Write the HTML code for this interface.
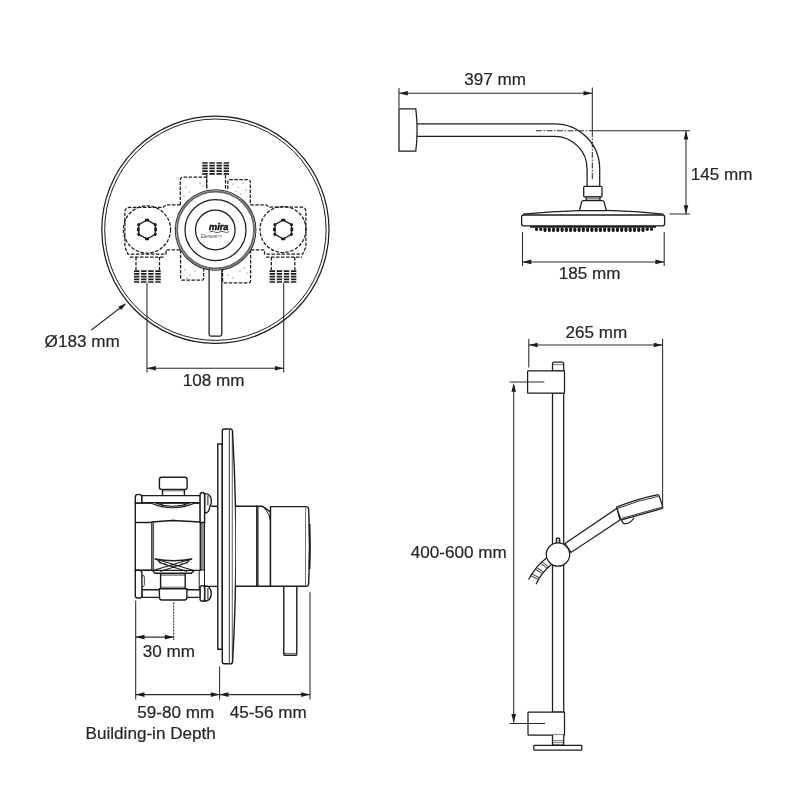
<!DOCTYPE html>
<html lang="en">
<head>
<meta charset="utf-8">
<title>Shower dimensions</title>
<style>
html,body{margin:0;padding:0;background:#fff;}
body{width:800px;height:800px;overflow:hidden;}
svg{display:block;}
.t{font-family:"Liberation Sans",Arial,Helvetica,sans-serif;font-size:17.1px;fill:#262626;stroke:#262626;stroke-width:0.2;}
.l{fill:none;stroke:#1c1c1c;stroke-width:1.25;}
.w{fill:#fff;stroke:#1c1c1c;stroke-width:1.25;}
#valve-side .l,#valve-side .w{stroke-width:1.4;}
.d{fill:none;stroke:#1c1c1c;stroke-width:1.25;stroke-dasharray:3.5 1.5;}
.k{fill:#1c1c1c;stroke:none;}
.dim{fill:none;stroke:#2a2a2a;stroke-width:1.05;}
</style>
</head>
<body>
<svg width="800" height="800" viewBox="0 0 800 800" style="filter:grayscale(1)">
<rect width="800" height="800" fill="#fff"/>

<!-- ================= VALVE FRONT VIEW ================= -->
<g id="valve-front">
  <circle style="stroke-width:1.25" class="l" cx="215.4" cy="229.7" r="113.6"/>
  <circle style="stroke-width:1" class="l" cx="215.4" cy="229.7" r="110.7"/>

  <!-- dashed hidden body -->
  <!-- left port -->
  <path class="d" d="M180.5,204.8 H166 L163,207.4 H129.4 Q124.9,207.4 124.9,212 V247 L128,254.2 H166 V249.8 H180.5"/>
  <path class="d" d="M130,257 H164"/>
  <path class="d" d="M136,257 V270 M159.5,257 V270"/>
  <circle class="d" cx="147" cy="229.5" r="23.6"/>
  <polygon style="stroke-width:1.25" class="l" points="147.0,219.9 155.3,224.7 155.3,234.3 147.0,239.1 138.7,234.3 138.7,224.7"/>
  <path style="stroke-width:2.7" class="l" d="M145.0,220.1 h4 M145.0,238.9 h4 M155.7,227.8 v3.4 M138.3,227.8 v3.4 M156.0,225.9 L154.6,223.5 M154.6,235.5 L156.0,233.1 M138.0,233.1 L139.4,235.5 M139.4,223.5 L138.0,225.9"/>
  <!-- right port -->
  <path class="d" d="M250.3,204.8 H266 L269,207.2 H301.6 Q305.9,207.2 305.9,211.6 V247 L302.6,254.2 H264.5 V249.8 H250.3"/>
  <path class="d" d="M266,257 H302"/>
  <path class="d" d="M271.3,257 V270 M294.8,257 V270"/>
  <circle class="d" cx="283" cy="229.5" r="23"/>
  <polygon style="stroke-width:1.25" class="l" points="283.2,219.9 291.5,224.7 291.5,234.3 283.2,239.1 274.9,234.3 274.9,224.7"/>
  <path style="stroke-width:2.7" class="l" d="M281.2,220.1 h4 M281.2,238.9 h4 M291.9,227.8 v3.4 M274.5,227.8 v3.4 M292.2,225.9 L290.8,223.5 M290.8,235.5 L292.2,233.1 M274.2,233.1 L275.6,235.5 M275.6,223.5 L274.2,225.9"/>
  <!-- centre boxes -->
  <path class="d" d="M180.3,205 V180 Q180.3,177 183.3,177 H206.7 V189"/>
  <path class="d" d="M227.8,189 V182 Q227.8,179.5 230.3,179.5 H247.7 Q250.3,179.5 250.3,182 V205"/>
  <path class="d" d="M180.6,250 V278.4 Q180.6,280.2 182.4,280.2 H201.9 Q203.7,280.2 203.7,278.4 V268"/>
  <path class="d" d="M222.6,268 V281 Q222.6,282.8 224.4,282.8 H248.8 Q250.6,282.8 250.6,281 V250"/>
  <path class="d" d="M206.7,175 V189 M225.5,175 V189"/>
  <!-- threads -->
  <g stroke="#1c1c1c" stroke-width="1.7" stroke-dasharray="5.4 1.7" fill="none">
    <path d="M134,271.2 H161.3 M134,273.9 H161.3 M134,276.6 H161.3 M134,279.3 H161.3 M134,282 H161.3"/>
    <path d="M269.6,271.2 H297 M269.6,273.9 H297 M269.6,276.6 H297 M269.6,279.3 H297 M269.6,282 H297"/>
    <path d="M202.3,163 H229 M202.3,165.7 H229 M202.3,168.4 H229 M202.3,171.1 H229 M202.3,173.8 H229"/>
  </g>
  <!-- stipple -->
  <g class="k" opacity="0.75">
    <circle cx="186" cy="187" r="0.6"/><circle cx="189" cy="192" r="0.6"/><circle cx="184" cy="196" r="0.6"/><circle cx="200" cy="183" r="0.6"/><circle cx="203" cy="186" r="0.6"/>
    <circle cx="233" cy="184" r="0.6"/><circle cx="238" cy="187" r="0.6"/><circle cx="243" cy="183" r="0.6"/><circle cx="246" cy="190" r="0.6"/><circle cx="241" cy="194" r="0.6"/><circle cx="236" cy="191" r="0.6"/>
    <circle cx="185" cy="270" r="0.6"/><circle cx="190" cy="275" r="0.6"/><circle cx="195" cy="271" r="0.6"/><circle cx="187" cy="278" r="0.6"/>
    <circle cx="228" cy="275" r="0.6"/><circle cx="233" cy="278" r="0.6"/><circle cx="244" cy="268" r="0.6"/><circle cx="247" cy="273" r="0.6"/><circle cx="240" cy="271" r="0.6"/>
  </g>

  <!-- lever -->
  <path class="w" d="M209.1,262 V334.3 Q209.1,336.1 210.9,336.1 H220 Q221.8,336.1 221.8,334.3 V262 Z"/>
  <!-- knob -->
  <circle cx="215.6" cy="230" r="40.3" fill="#fff" stroke="#333" stroke-width="1.1"/>
  <circle cx="215.6" cy="230" r="38.5" fill="none" stroke="#6a6a6a" stroke-width="1.9"/>
  <circle class="l" cx="215.5" cy="230" r="30.5"/>
  <circle class="l" cx="215.3" cy="230" r="19.8"/>
  <text x="209" y="229.6" font-family="'Liberation Sans',Arial,sans-serif" font-size="8.8" font-weight="bold" font-style="italic" fill="#111" stroke="#111" stroke-width="0.45" textLength="19.4" lengthAdjust="spacingAndGlyphs">mira</text>
  <path style="stroke-width:0.7" class="l" d="M209.5,232 Q212,230.8 214.5,232 T219.5,232 T224.5,232 T229,231.6"/>
  <text x="201" y="237.6" font-family="'Liberation Sans',Arial,sans-serif" font-size="4.6" fill="#444" textLength="21" lengthAdjust="spacingAndGlyphs">Element™</text>

  <!-- dimensions -->
  <path class="dim" d="M147,283 V372.5 M283.7,283 V372.5 M147,368.3 H283.7"/>
  <path class="k" d="M147,368.3 l8.8,-2.3 v4.6 z M283.7,368.3 l-8.8,-2.3 v4.6 z"/>
  <text class="t" x="182.8" y="385.8">108 mm</text>
  <path class="dim" d="M91.3,330 L124,305"/>
  <path class="k" d="M126.4,303.2 l-7.9,3.4 l2.7,3.5 z"/>
  <text class="t" x="44.6" y="347.2">Ø183 mm</text>
</g>

<!-- ================= FIXED SHOWER HEAD ================= -->
<g id="shower-head">
  <!-- wall bracket -->
  <path class="w" d="M399,108.8 H415.8 Q418.4,130 415.8,151.2 H399 Z"/>
  <!-- arm -->
  <path class="l" d="M417,123.8 H554.5 A45.2,45.2 0 0 1 599.7,169 V186.3"/>
  <path class="l" d="M417,136.3 H554.5 A32.6,32.6 0 0 1 587.1,168.9 V186.3"/>
  <!-- centre line -->
  <path style="stroke-dasharray:6 1.5 1.5 1.5" class="dim" d="M536,130.8 H592"/>
  <path style="stroke-dasharray:6 1.5 1.5 1.5" class="dim" d="M592.3,131 V180"/>
  <!-- nut + cone -->
  <path class="w" d="M584.6,186.3 H601.1 Q602,186.3 602,187.2 V196 Q602,196.9 601.1,196.9 H584.6 Q583.7,196.9 583.7,196 V187.2 Q583.7,186.3 584.6,186.3 Z"/>
  <path class="w" d="M586.2,196.9 H600 V200.4 H586.2 Z"/>
  <path style="stroke-width:0.6" class="l" d="M586.2,198.6 H600"/>
  <path class="w" d="M579.4,210.6 L581.6,202 Q581.9,200.5 583.4,200.5 H602.3 Q603.8,200.5 604.1,202 L606.3,210.6 Z"/>
  <!-- head -->
  <path class="l" d="M523,214.2 Q552,211.2 579.4,210.6 M606.3,210.4 Q636,211 663.4,214.1"/>
  <rect style="stroke-width:1.3" class="w" x="521.6" y="215" width="143" height="10.8" rx="2" ry="2"/>
  <!-- nozzles -->
  <path d="M536.5,229.2 H652" fill="none" stroke="#1c1c1c" stroke-width="3.4" stroke-linecap="round" stroke-dasharray="0.01 4.25"/>
  <path d="M545,230.6 H644" fill="none" stroke="#1c1c1c" stroke-width="3" stroke-linecap="round" stroke-dasharray="0.01 4.25"/>
  <path d="M530,226.9 H656" fill="none" stroke="#1c1c1c" stroke-width="1.6"/>
  <!-- dimensions -->
  <path class="dim" d="M399,88 V108 M592.3,87.5 V130.8 M399,93.3 H592.3"/>
  <path class="k" d="M399,93.3 l8.8,-2.3 v4.6 z M592.3,93.3 l-8.8,-2.3 v4.6 z"/>
  <text class="t" x="464.3" y="85.2">397 mm</text>
  <path class="dim" d="M592.3,130.8 H690 M669.5,214 H690 M686,130.8 V214"/>
  <path class="k" d="M686,130.8 l-2.3,8.8 h4.6 z M686,214 l-2.3,-8.8 h4.6 z"/>
  <text class="t" x="690.8" y="180.2">145 mm</text>
  <path class="dim" d="M522.5,232 V266 M664.2,232 V266 M522.5,261.9 H664.2"/>
  <path class="k" d="M522.5,261.9 l8.8,-2.3 v4.6 z M664.2,261.9 l-8.8,-2.3 v4.6 z"/>
  <text class="t" x="558.7" y="279">185 mm</text>
</g>

<!-- ================= VALVE SIDE VIEW ================= -->
<g id="valve-side">
  <!-- neck between body and plate -->
  <path class="l" d="M211.2,506.3 H217.6 M205,586.4 H217.6"/>
  <!-- back plate + cover plate -->
  <path class="w" d="M217.8,444 H222.3 V649.3 H217.8 Z"/>
  <path class="w" d="M222.3,431 Q222.3,429 224.3,429 H230 Q232.2,429 232.5,431 Q235.9,490 235.9,546.5 Q235.9,603 232.6,661.8 Q232.3,663.8 230.2,663.8 H224.3 Q222.3,663.8 222.3,661.8 Z"/>
  <path style="stroke-width:0.9" class="l" d="M229.3,429.4 V663.4"/>
  <path style="stroke-width:0.7" class="l" d="M232.3,432 V661"/>
  <!-- knob -->
  <path class="w" d="M235.9,506.3 H257 V586.3 H235.9"/>
  <path class="w" d="M257,506.3 H262.4 L270.5,511.8 V586.3 H257 Z"/>
  <path style="stroke-width:1" class="l" d="M264.2,508.4 Q269.4,513 270.4,520.6 M258,507 V586"/>
  <!-- lever -->
  <path class="w" d="M283.8,586.3 V654.3 Q283.8,655.3 284.8,655.3 H295.8 Q296.8,655.3 296.8,654.3 V586.3"/>
  <path style="stroke-width:0.7" class="l" d="M283.8,653.4 H296.8"/>
  <path class="w" d="M270.5,506.6 H306 Q308.2,506.6 308.6,509 Q310.4,546 308.6,584 Q308.2,586.3 306,586.3 H270.5 Z"/>
  <path style="stroke-width:0.9;stroke:#666" class="l" d="M305.5,507.4 V585.6"/>
  <path style="stroke-width:1.9" class="l" d="M309.5,524 Q310.4,546 309.5,569"/>

  <!-- valve body -->
  <path class="w" d="M135.3,503 H200.3 V570.4 H135.3 Z"/>
  <!-- top plug -->
  <path class="w" d="M162.5,489.4 H184.4 V495.6 H162.5 Z"/>
  <rect class="w" x="159.4" y="477.3" width="27.7" height="12.1" rx="2.2"/>
  <path style="stroke-width:0.7" class="l" d="M162.5,490.8 H184.4"/>
  <!-- top bar and hook -->
  <path class="w" d="M135.3,503 V497 Q135.3,494.4 138.6,494.4 Q141.9,494.4 141.9,497 V503 Z"/>
  <path class="w" d="M141.9,495.6 H200.3 V502.8 H141.9 Z"/>
  <!-- bowl -->
  <path d="M150.6,503 Q172.8,512.6 195,503 L190,503 Q172.8,509.6 155.5,503 Z" fill="#b5b5b5" stroke="none"/>
  <path class="l" style="stroke-width:1.1" d="M150.6,503 Q172.8,512.6 195,503 M155.5,503 Q172.8,509.6 190,503"/>
  <path style="stroke-width:0.8" class="l" d="M162.5,503 V506.6 M184.4,503 V506.6"/>
  <!-- inner box -->
  <path class="l" d="M135.3,522.5 H151.9 M135.3,570.2 H151.9"/>
  <path class="l" d="M151.9,570.4 V522 L168.8,520.8 H177.5 L200.3,522"/>
  <path style="stroke-width:0.8" class="l" d="M153.6,522.4 V570 M168.8,520.6 Q173,519.4 177.5,520.6"/>
  <!-- right strip -->
  <path style="stroke-width:1;fill:#8e8e8e" class="w" d="M200.6,522.5 H204.5 V570 H200.6 Z"/>
  <path style="stroke-width:1" class="l" d="M204.5,570 V586 M199.2,570.4 V589.8"/>
  <!-- right bracket + screws -->
  <path class="w" d="M204.6,493.6 Q210.6,493.4 211.3,500 Q211.6,505 209.6,507 Q209.6,512.4 204.6,513.4 Z"/>
  <path style="stroke-width:1.8;stroke:#777" class="l" d="M207.8,495.4 V505.4"/>
  <path class="w" d="M200.1,522.5 V495 Q200.1,492.5 202.4,492.5 Q204.6,492.5 204.6,495 V522.5 Z"/>
  <path class="w" d="M204.6,586 Q210.8,585.6 211.3,593.4 Q211,601 204.6,601.2 Z"/>
  <path style="stroke-width:1.8;stroke:#777" class="l" d="M207.8,588 V599.2"/>
  <path class="w" d="M200,588 Q200,585.6 202.3,585.6 Q204.6,585.6 204.6,588 V598.8 Q204.6,601.2 202.3,601.2 Q200,601.2 200,598.8 Z"/>
  <!-- fan detail -->
  <path class="l" d="M155,559 Q173.4,562.4 191.9,559"/>
  <path style="stroke-width:1.1" class="l" d="M154.6,558.8 L194.6,570.8 M192.3,558.8 L152.2,570.8 M157.4,560.4 Q173.4,572.4 189.6,560.4 M159,562.6 L187,571.4 M188,562.6 L160,571.4 M164,563.4 Q173.4,569.8 183,563.4"/>
  <path class="l" d="M152.6,570.6 L155,573.2 H191.3 L194,570.6"/>
  <!-- lower bar, left bracket, bottom plug -->
  <path class="w" d="M141.9,589.8 H200 V597.4 H141.9 Z"/>
  <path class="w" d="M135.3,570.4 H139.4 Q141.9,570.4 141.9,573 V595.4 Q141.9,598 139.4,598 H137.8 Q135.3,598 135.3,595.4 Z"/>
  <path style="stroke-width:0.8" class="l" d="M141.9,575 Q144.4,575 144.4,577.4 V584.6 Q144.4,587 141.9,587"/>
  <path class="w" d="M160.6,573.6 H185.2 V588.8 H160.6 Z"/>
  <path style="stroke-width:0.7" class="l" d="M160.6,575.2 H185.2 M160.6,587.2 H185.2"/>
  <path class="w" d="M159.4,588.8 H186.9 V597.6 Q186.9,600 184.5,600 H161.8 Q159.4,600 159.4,597.6 Z"/>

  <!-- dimensions -->
  <path class="dim" d="M135.7,600.6 V699.5 M219.6,666.5 V699.5 M310,592.3 V699.5 M135.7,694.6 H310"/>
  <path class="k" d="M135.7,694.6 l8.8,-2.3 v4.6 z M219.6,694.6 l-8.8,-2.3 v4.6 z M219.6,694.6 l8.8,-2.3 v4.6 z M310,694.6 l-8.8,-2.3 v4.6 z"/>
  <path style="stroke-dasharray:2 1" class="dim" d="M173.7,602.5 V640"/>
  <path class="dim" d="M135.7,637.1 H173.7"/>
  <path class="k" d="M135.7,637.1 l8.8,-2.3 v4.6 z M173.7,637.1 l-8.8,-2.3 v4.6 z"/>
  <text class="t" x="142.7" y="656.7">30 mm</text>
  <text class="t" x="137.3" y="718">59-80 mm</text>
  <text class="t" x="229.8" y="718">45-56 mm</text>
  <text class="t" x="85.6" y="739.4" textLength="130.2" lengthAdjust="spacingAndGlyphs">Building-in Depth</text>
</g>

<!-- ================= SLIDE RAIL ================= -->
<g id="rail">
  <!-- rail tube -->
  <path class="w" d="M552.5,393 V712 H563.7 V393 Z"/>
  <!-- top cap + bracket -->
  <path class="w" d="M552.5,370.8 V364 Q552.5,362 554.5,362 H561.7 Q563.7,362 563.7,364 V370.8 Z"/>
  <path style="stroke-width:0.6" class="l" d="M552.5,364.6 H563.7"/>
  <rect class="w" x="527.6" y="370.8" width="36.9" height="22.4" rx="0.5"/>
  <!-- bottom bracket + foot -->
  <rect class="w" x="528" y="712" width="36.5" height="23" rx="0.5"/>
  <path class="w" d="M552.5,735 V745 H563.7 V735"/>
  <path style="stroke-width:0.6" class="l" d="M552.5,740.6 H563.7 M552.5,742.6 H563.7"/>
  <rect class="w" x="533.8" y="745.4" width="48" height="4.7" rx="0.5"/>
  <!-- hose -->
  <path class="l" d="M546.5,558 Q535.5,566.4 528.6,579.5 M551.5,564.6 Q542,572 536,584.2"/>
  <path style="stroke-width:0.9" class="l" d="M542.2,562 L548.6,566.8 M540.8,563.4 L547.2,568.2 M536.6,567.6 L543.4,571.8 M535.4,569.2 L542.2,573.4 M531.8,574 L539.2,577.6 M530.8,575.8 L538.2,579.4"/>
  <!-- handset -->
  <path class="w" d="M565,543.6 L617,508.2 L620,520 L571,552.4 Z"/>
  <path class="w" d="M621.6,519.8 Q622.4,524 626,523.7 Q631,523 634,517.8"/>
  <path class="w" d="M616.6,507.2 Q638,498.6 657.2,494.9 Q658.7,494.7 659.1,495.9 L662.8,507 Q663.1,508.3 661.8,508.7 L622.4,519.7 Q620.9,520.1 620.4,518.6 Z"/>
  <path style="stroke-width:0.9" class="l" d="M617.6,508.5 Q638.4,500 658.4,496.4 M621.6,518.4 L662,507.2"/>
  <!-- ball -->
  <path class="w" style="fill:#bbb" d="M556.3,543 V538.9 Q556.3,538.2 557,538.2 H559 Q559.7,538.2 559.7,538.9 V543"/>
  <circle class="w" cx="558" cy="554.5" r="11.7"/>
  <!-- dimensions -->
  <path class="dim" d="M528.8,338.8 V367.5 M662.6,338.8 V505 M528.8,345 H662.6"/>
  <path class="k" d="M528.8,345 l8.8,-2.3 v4.6 z M662.6,345 l-8.8,-2.3 v4.6 z"/>
  <text class="t" x="565.6" y="338.2">265 mm</text>
  <path class="dim" d="M509.5,382 H544.3 M509.5,723.5 H545 M513.7,385 V722.5"/>
  <path class="k" d="M513.7,383 l-2.3,8.8 h4.6 z M513.7,722.8 l-2.3,-8.8 h4.6 z"/>
  <text class="t" x="410.8" y="557.7">400-600 mm</text>
</g>

</svg>
</body>
</html>
